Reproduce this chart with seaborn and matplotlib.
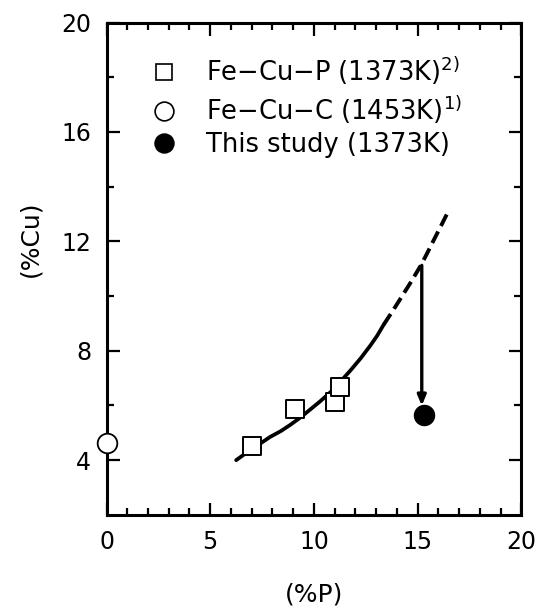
import matplotlib
matplotlib.use("Agg")
import matplotlib.pyplot as plt
from matplotlib.lines import Line2D
from matplotlib.ticker import MultipleLocator
import pandas as pd
import seaborn as sns

# データ
fecup_p = [7.0, 9.1, 11.03, 11.27]
fecup_cu = [4.52, 5.87, 6.14, 6.69]
fecuc_p = [0.0]
fecuc_cu = [4.64]
study_p = [15.3]
study_cu = [5.65]

# 曲線（実線部・破線部）
curve_p = [6.25, 6.6, 6.92, 7.4, 7.89, 8.4, 8.86, 9.35, 9.82, 10.3, 10.79,
           11.25, 11.75, 12.25, 12.72, 13.05, 13.36]
curve_cu = [4.0, 4.19, 4.37, 4.6, 4.85, 5.06, 5.29, 5.56, 5.85, 6.15, 6.48,
            6.85, 7.27, 7.72, 8.19, 8.55, 8.95]
ext_p = [13.36, 13.75, 14.17, 14.65, 15.14, 15.45, 15.78, 16.15, 16.5]
ext_cu = [8.95, 9.4, 9.9, 10.48, 11.1, 11.55, 12.05, 12.6, 13.13]

# 矢印
arrow_p = 15.2
arrow_from = 11.12
arrow_to = 5.99

labels = ["Fe\u2212Cu\u2212P (1373K)$^{2)}$",
          "Fe\u2212Cu\u2212C (1453K)$^{1)}$",
          "This study (1373K)"]

sns.set_style("ticks")
plt.rcParams["font.family"] = ["DejaVu Sans"]
plt.rcParams["mathtext.default"] = "regular"
plt.rcParams.update({"text.color": "black", "axes.labelcolor": "black",
                     "xtick.color": "black", "ytick.color": "black",
                     "axes.edgecolor": "black"})

fig = plt.figure(figsize=(5.38, 6.10), dpi=100)
ax = fig.add_axes([0.198, 0.156, 0.771, 0.807])

sol = pd.DataFrame({"P": curve_p, "Cu": curve_cu})
ext = pd.DataFrame({"P": ext_p, "Cu": ext_cu})
sns.lineplot(data=sol, x="P", y="Cu", color="black", linewidth=2.7,
             sort=False, ax=ax)
sns.lineplot(data=ext, x="P", y="Cu", color="black", linewidth=2.8,
             sort=False, ax=ax, linestyle=(0, (3.3, 1.6)))

ax.annotate("", xy=(arrow_p, arrow_to), xytext=(arrow_p, arrow_from),
            arrowprops=dict(arrowstyle="-|>,head_length=0.6,head_width=0.25",
                            color="black", lw=2.4, shrinkA=0, shrinkB=0))

sns.scatterplot(x=fecup_p, y=fecup_cu, marker="s", s=150, facecolor="white",
                edgecolor="black", linewidth=1.4, ax=ax, zorder=4)
sns.scatterplot(x=fecuc_p, y=fecuc_cu, marker="o", s=200, facecolor="white",
                edgecolor="black", linewidth=1.3, ax=ax, zorder=5, clip_on=False)
sns.scatterplot(x=study_p, y=study_cu, marker="o", s=200, facecolor="black",
                edgecolor="black", linewidth=1.3, ax=ax, zorder=5)

ax.set_xlim(0, 20)
ax.set_ylim(2, 20)
ax.xaxis.set_major_locator(MultipleLocator(5))
ax.xaxis.set_minor_locator(MultipleLocator(1))
ax.set_yticks([4, 8, 12, 16, 20])
ax.set_yticks([6, 10, 14, 18], minor=True)
ax.tick_params(which="both", direction="in", top=True, right=True,
               width=1.6, labelsize=17, color="black", labelcolor="black")
ax.tick_params(which="major", length=9, pad=11)
ax.tick_params(which="minor", length=5)
for sp in ax.spines.values():
    sp.set_linewidth(2.2)
    sp.set_color("black")

ax.set_xlabel("(%P)", fontsize=18, color="black")
ax.set_ylabel("(%Cu)", fontsize=18, color="black")
ax.xaxis.set_label_coords(0.5, -0.138)
ax.yaxis.set_label_coords(-0.154, 0.56)

handles = [
    Line2D([], [], ls="none", marker="s", ms=12, mfc="white", mec="black", mew=1.2),
    Line2D([], [], ls="none", marker="o", ms=13.5, mfc="white", mec="black", mew=1.2),
    Line2D([], [], ls="none", marker="o", ms=13.5, mfc="black", mec="black", mew=1.2),
]
leg = ax.legend(handles, labels, loc="upper left", bbox_to_anchor=(0.107, 0.935),
                frameon=False, fontsize=18.5, handlelength=1.0, handletextpad=1.15,
                labelspacing=0.25, borderpad=0, borderaxespad=0)
for t in leg.get_texts():
    t.set_color("black")

fig.savefig("out.png", dpi=100)
